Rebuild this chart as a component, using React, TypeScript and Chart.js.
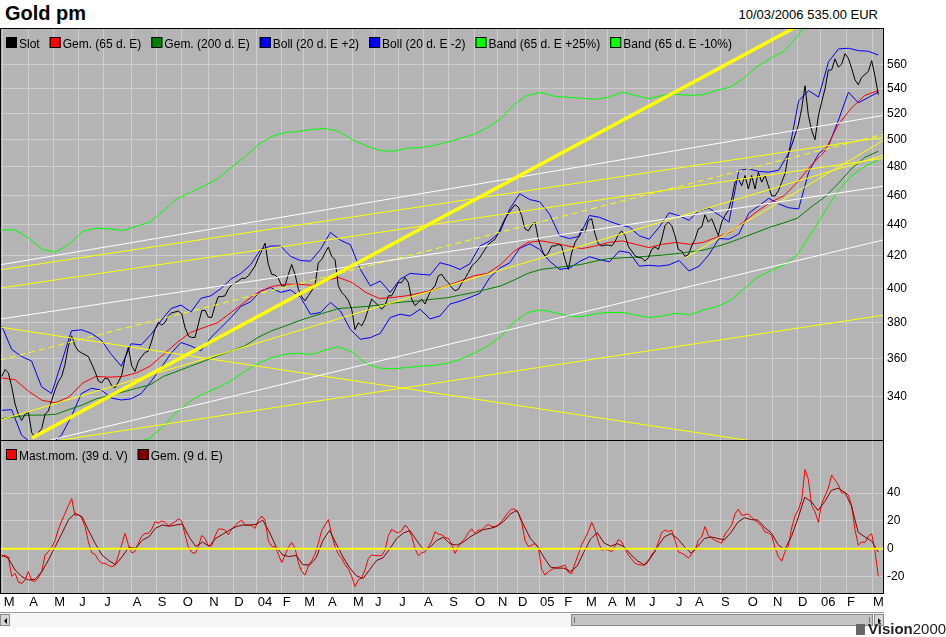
import React, { useEffect, useRef } from 'react';
import { Chart, registerables } from 'chart.js';

Chart.register(...registerables);

const FONT = '"Liberation Sans", Arial, Helvetica, sans-serif';
const PANEL_BG = '#b4b4b4';
const GRID = '#cdcdcd';

Chart.defaults.font.family = FONT;
Chart.defaults.color = '#000';

// x runs in sample steps, sample 0 = first day shown (March 2003)
const X_MIN = -0.51;
const X_MAX = 264.7;
const PRICE_MIN = 318;
const PRICE_MAX = 591.3;
const MOM_MIN = -32.6;
const MOM_MAX = 78.2;

// sample where each month starts, and the axis labels
const monthStarts = [
  0.3, 8.0, 15.5, 23.0, 30.5, 39.0, 46.5, 54.0, 62.0, 69.5,
  76.5, 84.0, 90.5, 97.6, 105.1, 111.7, 119.0, 126.4, 134.0, 141.7, 148.6, 154.6,
  161.2, 168.5, 175.0, 181.6, 186.7, 193.9, 202.0, 207.7, 215.5, 223.5, 231.1, 238.6,
  245.5, 253.3, 261.1,
];
const monthLabels = [
  'M', 'A', 'M', 'J', 'J', 'A', 'S', 'O', 'N', 'D',
  '04', 'F', 'M', 'A', 'M', 'J', 'J', 'A', 'S', 'O', 'N', 'D',
  '05', 'F', 'M', 'A', 'M', 'J', 'J', 'A', 'S', 'O', 'N', 'D',
  '06', 'F', 'M',
];
const priceTicks = [340, 360, 380, 400, 420, 440, 460, 480, 500, 520, 540, 560];
const momentumTicks = [-20, 0, 20, 40];

// gold pm fixing in EUR ("Slot")
const closes = [
  350.4, 354, 352.3, 345, 336.2, 331, 328, 331, 332, 322,
  319.6, 322, 324, 331, 332.7, 338, 343.3, 347.7, 350.4, 356.8,
  366.8, 372.4, 367, 364, 363, 362, 361, 357, 353, 348,
  347, 349.5, 349, 345.5, 344.5, 347.5, 351, 360, 366, 356,
  353, 358.5, 361, 363.2, 364, 369.5, 376, 380, 378.5, 380,
  383.7, 385.5, 386, 386.5, 385, 377, 372.4, 371.5, 371.5, 379,
  386.7, 387, 383, 382.8, 389.6, 395, 395, 395.5, 399.5, 402,
  403, 404.5, 406, 406, 407.5, 410.5, 413.5, 418.7, 423, 428,
  414.5, 408.5, 408, 406, 401.4, 401.4, 408.5, 414.5, 408.5, 399.5,
  395, 392.5, 395.5, 398.5, 402, 415.6, 417.6, 421.8, 425.5, 419.6,
  417.6, 401.4, 397.5, 395.5, 392.6, 387.7, 375.9, 379.8, 378, 381.8,
  387.6, 393.5, 391.6, 389.7, 387.6, 389.7, 395.5, 395.5, 399.4, 403.4,
  403.4, 406.5, 403.4, 393.5, 389.7, 391.6, 393.5, 390.6, 395.5, 399.4,
  401.4, 407.5, 408.5, 405.5, 403.4, 400.4, 398.5, 399.4, 403, 406,
  409.5, 413.5, 415.6, 417.6, 420.7, 424, 427.3, 429, 430.6, 434.5,
  439.5, 444, 447.3, 450.6, 453.5, 451.8, 446, 437.3, 436, 439.5,
  441.8, 430.6, 424, 419.6, 421.8, 426.2, 426.2, 427.3, 426.2, 417.6,
  411.5, 421.8, 428.5, 431.8, 437.3, 435.1, 442.9, 444, 434, 427.5,
  426.2, 426.8, 426.8, 426.2, 429, 433.5, 436, 433, 426, 423,
  420, 419, 418.6, 416.6, 418.7, 424, 425.7, 424, 430.6, 439.5,
  441.8, 439.5, 432.9, 424, 422.9, 419.6, 420.7, 426.2, 430.6, 437.3,
  438.5, 446.7, 441.8, 444, 438.5, 432.9, 441.8, 446.2, 449.5, 457.3,
  469.1, 471.4, 466.6, 473.8, 464.3, 473.8, 464.3, 476.2, 469.1, 473.8,
  466.6, 459.6, 459.5, 463, 469, 475, 489, 495.8, 503.3, 511,
  523.8, 542.2, 518.7, 507, 500, 518, 529.2, 539.6, 555, 555.3,
  564.5, 557.5, 560, 569, 565, 556.5, 547, 543, 549, 551.5,
  554, 563, 550, 535,
];
const LAST = closes.length - 1;

const ema65 = [
  349.6, 348.6, 342.6, 338, 336.8, 339.8, 346.9, 350.4, 350, 350.4,
  352.3, 355.8, 362.2, 368.7, 374.3, 377.1, 379.8, 385.7, 391.6, 397.5,
  401, 402.4, 402.4, 401.8, 404.8, 406.5, 403.4, 397.5, 393.9, 394.5,
  395.5, 397.1, 399, 401.4, 404.4, 407.5, 409, 414.5, 422.9, 428.5,
  429.5, 428, 426.2, 424.5, 426.2, 428.5, 429.5, 427.3, 425.2, 427.3,
  428.5, 427.3, 428.5, 431.8, 435.1, 441.8, 448.9, 455.1, 459.6, 469.1,
  480.9, 490.9, 511, 524.3, 534.4, 538.3,
];
const ema200 = [
  328.8, 329.7, 330.6, 330.6, 331, 333.4, 335.7, 338.8, 340.5, 342.3,
  344.2, 346, 350.4, 353.1, 355.8, 358.5, 361.3, 364.1, 366.8, 371.5,
  375.2, 377.9, 380.8, 383.4, 385.7, 388, 388.6, 389.2, 390, 391.2,
  392, 392.5, 393.5, 394.3, 395.9, 397.5, 399.4, 401.4, 405, 409,
  411.5, 412.5, 413.5, 414.6, 416.6, 418.2, 418.7, 419.1, 419.8, 420.4,
  421.3, 422.5, 423.5, 425.8, 428.5, 431.8, 435.1, 438.5, 441.3, 444.4,
  451.8, 458.5, 467.9, 478.6, 486.9, 491.4,
];
const bollUpper = [
  378, 364.9, 361, 358.6, 345, 341.5, 357.7, 375.2, 375.8, 373.8,
  370, 362.2, 355.8, 368, 367.4, 373.3, 381, 388, 390, 386,
  394, 395.5, 399.8, 405.5, 409, 414.5, 424, 426.2, 426.2, 419.6,
  417, 416.6, 424, 435, 430, 427, 411.5, 401.4, 404.4, 397.5,
  405.5, 409, 408.5, 408, 415.6, 414, 411.5, 415, 426.2, 429.5,
  435.1, 450.6, 461, 457, 455.5, 447, 432.9, 431, 432.5, 446.2,
  445, 442.3, 440, 438.5, 432.8, 430.6, 438.4, 448, 446, 443,
  449.5, 451, 446.6, 441.8, 477.4, 478.6, 476.7, 476.2, 477.6, 490,
  530, 538.2, 533, 562, 573, 573.6, 571.5, 571, 567.8,
];
const bollLower = [
  333, 333.3, 320.8, 317, 316.6, 316.6, 320.8, 330, 341.5, 344.2,
  343.3, 339.2, 338.2, 338.8, 341.5, 347.8, 355, 362.8, 368.7, 366.8,
  364.1, 371.5, 377, 382.7, 389.2, 392, 398.4, 400.4, 397.5, 399,
  394.6, 384.7, 385.7, 391.6, 386.6, 376, 370.5, 371.4, 373.8, 382.8,
  384.7, 383.7, 387.6, 382, 383.7, 390.6, 392.3, 394.5, 397, 406.5,
  412.3, 415.6, 424.7, 427.6, 424, 416.6, 411.5, 412.3, 416.4, 419.4,
  417.6, 416.2, 423, 422, 413.5, 414, 413.5, 414.3, 417, 410.5,
  413.5, 420.7, 431, 430.6, 434, 447.8, 452.7, 457.8, 454, 451.4,
  450.6, 476.2, 489.4, 495.5, 515, 537, 528.4, 532.8, 537,
];
const bandUpper = [
  436.6, 436.6, 431.2, 424, 422.3, 427.3, 435.6, 437.8, 437.3, 436.2,
  439, 441.8, 449.5, 457.5, 462, 466.5, 471.5, 479.5, 487, 496,
  502.3, 505.4, 506.2, 507.7, 508.5, 506.2, 500, 495.5, 492.1, 491.3,
  493.5, 494, 495.5, 498, 501, 504, 509, 516, 527.2, 534.4,
  536.8, 533.6, 532.9, 532.1, 531.3, 532.9, 537, 534.4, 531.8, 534.4,
  535.2, 534.4, 535, 538.4, 541, 548, 558, 565, 571, 584,
  600, 613, 638, 655, 668, 673,
];
const bandLower = [
  314.6, 313.7, 308.4, 304.2, 303.1, 305.8, 312.2, 315.4, 315, 315.4,
  317.1, 319.5, 325.2, 332.4, 337.8, 341.5, 344.5, 348, 353, 357.3,
  360.4, 362.2, 362.8, 362.2, 364.5, 366.4, 363.4, 357.3, 354.8, 354.4,
  355.1, 355.8, 356.2, 357.3, 359.5, 362.7, 366.5, 372, 380.2, 385.7,
  387.2, 385.7, 383.7, 383.3, 384.9, 385.7, 385.7, 384.3, 382.8, 383.7,
  385.3, 384.3, 387.1, 389, 392.5, 399.4, 406.5, 410.5, 414.4, 420.7,
  434, 448.4, 463, 473.5, 480.3, 484.8,
];

// momentum (39 d.) and its 9 d. average
const momentum = [
  -5.8, -4.6, -6, -20, -17.7, -24, -25, -22.5, -16.5, -23,
  -23.5, -21, -16.5, -4.5, -2, 1, 6, 14, 20, 25.4,
  31, 36, 24, 24.5, 22, 16, 5, -3, -4, -8,
  -10.5, -10.5, -12, -13, -11.8, -5, 3, 11, 3, -3,
  -2, 4, 9, 11, 11, 14, 19.4, 18.5, 20, 19,
  16.5, 18, 19.4, 21.5, 20, 10, 1, -2.6, -3.4, 1.4,
  9.5, 7.4, 2, 2, 9, 14, 14.2, 13.4, 10, 14.2,
  16.5, 19, 20.5, 17, 17, 16.5, 14.6, 20.6, 23.5, 20.6,
  5.5, 1.6, 1.4, -4, -10, -4.6, 1, 4.5, 0.5, -10,
  -16.5, -19, -12.5, -8.5, -4, 4, 13, 17, 21, 10,
  1.5, -4, -7, -11.5, -14.5, -20, -27.3, -22.5, -21, -15.3,
  -7, -4.5, -5, -5, -5, -1, 9.5, 14, 12.2, 11.5,
  13, 17, 14.5, 9, 0, -5, -3, -2.2, 1, 5.5,
  12.2, 10.5, 10, 8, 7.5, 3, -3.4, 1.6, 4.7, 7.4,
  11.5, 14.3, 11, 13.4, 13.4, 16, 17.4, 16, 15.8, 17.4,
  19.7, 23, 26.3, 28.5, 28.4, 25.6, 19, 6, 1.5, 2.5,
  3.8, 1, -15, -19, -16.5, -15, -14, -13.3, -12.6, -11.8,
  -17, -18, -10.5, -4, 3, 7.4, 12.5, 19, 13.4, 5,
  -1, -0.5, -1, -2.2, 2, 6.5, 5, -0.5, -4.5, -7.5,
  -10.5, -11.4, -11.8, -11.8, -9.2, -4, -2.2, 4.8, 11.6, 13.4,
  12.4, 13.3, 6, -2.3, -3.3, -4.6, -6.8, -3.7, -1, 6.3,
  8.4, 16, 9.5, 7.6, 6, 5, 4, 10.5, 13.5, 17,
  25, 28.5, 24, 24.5, 25, 22.5, 20.5, 18.6, 16, 12,
  11.4, 9.5, 0.5, -5.6, -9, -2.2, 2, 15, 23.5, 28,
  35, 57, 50, 31, 26.6, 19, 32.5, 38, 43.5, 53,
  49.4, 46, 40, 40.4, 38.6, 31, 13.4, 2.5, 4.8, 4.5,
  9, 10.8, -2, -20,
];
const momentumAvg = [
  -4.6, -7, -15.3, -20, -22.5, -22, -16.5, -8, 1.5, 11,
  21, 25.4, 23, 13, 3.5, -4.6, -8.5, -11.5, -5.8, 1.2,
  0.3, 6, 8.6, 14.8, 17, 16.2, 17, 17.8, 8.5, 1.6,
  4.8, 1.8, 7.5, 10.3, 13.3, 15.8, 17, 17, 17.5, 20.6,
  12, 1.5, -4.6, -5.7, -4.8, -11.5, -11.8, -6.5, 6, 13.2,
  3.5, -6, -13.8, -19.5, -21.5, -15, -8.5, -6.5, 0, 7.2,
  11.2, 13, 6, -0.5, 1, 6, 8.2, 3.5, 2.6, 4.8,
  8.5, 11.2, 13.8, 14.6, 16, 19.6, 25, 27.6, 17, 7.3,
  2, -6, -13.2, -14, -14, -16.5, -12.5, -2.5, 7, 11.6,
  4.2, 1.8, 3.6, 1.5, -4.2, -8.7, -11.6, -6.4, 1.4, 8.4,
  10.9, 7.3, 1.6, -3.2, 1.6, 7.3, 8.5, 7.3, 6.4, 11.8,
  19, 22.3, 20.9, 20.6, 15.2, 11.5, 3, -0.7, 8.6, 22,
  37, 33.7, 27.5, 34, 42, 43.5, 40.5, 30.5, 11.7, 8.4,
  5.5, -2.5,
];

// trend lines drawn on the chart: [from sample, from price, to sample, to price]
const trendThick = [[9.1, 319.4, 242.5, 599]];
const trendYellow = [
  [X_MIN, 411.2, X_MAX, 501.9],
  [X_MIN, 400.1, X_MAX, 486.3],
  [X_MIN, 377.3, X_MAX, 308.6],
  [X_MIN, 328.1, X_MAX, 488.5],
  [17.5, 318.4, X_MAX, 384.2],
  [205, 418.6, X_MAX, 499.7],
];
const trendYellowDashed = [[X_MIN, 359.1, X_MAX, 504.2]];
const trendWhite = [
  [X_MIN, 414.3, X_MAX, 518.6],
  [X_MIN, 381.9, X_MAX, 466.3],
  [14.5, 318.4, X_MAX, 430.2],
];

// spread a series evenly over the whole period
const spread = (values: number[]) =>
  values.map((y, i) => ({ x: (i * LAST) / (values.length - 1), y }));

const series = (label: string, values: number[], color: string, extra: any = {}) => ({
  label,
  data: spread(values),
  borderColor: color,
  backgroundColor: color,
  borderWidth: 1,
  pointRadius: 0,
  tension: 0,
  clip: 0,
  inLegend: true,
  ...extra,
});

const trend = (seg: number[], color: string, width = 1, dash: number[] = []) => ({
  label: 'trend',
  data: [{ x: seg[0], y: seg[1] }, { x: seg[2], y: seg[3] }],
  borderColor: color,
  borderWidth: width,
  borderDash: dash,
  pointRadius: 0,
  clip: 0,
  inLegend: false,
});

// grey panel, black frame and the legend written inside the panel
const drawLegend = (chart: any, items: any[]) => {
  const { ctx, chartArea: a } = chart;
  ctx.save();
  ctx.font = `12px ${FONT}`;
  ctx.textBaseline = 'alphabetic';
  let x = a.left + 6;
  const top = a.top + 9;
  items.forEach((ds: any) => {
    ctx.fillStyle = ds.borderColor;
    ctx.fillRect(x, top, 11, 11);
    ctx.strokeStyle = '#000';
    ctx.lineWidth = 1;
    ctx.strokeRect(x + 0.5, top + 0.5, 10, 10);
    ctx.fillStyle = '#000';
    ctx.fillText(ds.label, x + 13, top + 10.5);
    x += 13 + ctx.measureText(ds.label).width + 10;
  });
  ctx.restore();
};

const panelPlugin = {
  id: 'panel',
  beforeDraw(chart: any) {
    const { ctx, chartArea: a } = chart;
    ctx.save();
    ctx.fillStyle = PANEL_BG;
    ctx.fillRect(a.left, a.top, a.right - a.left, a.bottom - a.top);
    ctx.restore();
  },
  afterDraw(chart: any, _args: any, opts: any) {
    const { ctx, chartArea: a } = chart;
    ctx.save();
    ctx.strokeStyle = '#000';
    ctx.lineWidth = 1;
    ctx.strokeRect(a.left + 0.5, a.top + 0.5, a.right - a.left - 1, a.bottom - a.top - 1);
    ctx.restore();
    const items = chart.data.datasets.filter((d: any) => d.inLegend);
    drawLegend(chart, opts && opts.reverse ? items.slice().reverse() : items);
  },
};

const xScale = (showLabels: boolean) => ({
  type: 'linear',
  min: X_MIN,
  max: X_MAX,
  bounds: 'data',
  grid: { color: GRID, drawTicks: false },
  border: { display: false },
  ticks: {
    display: showLabels,
    autoSkip: false,
    maxRotation: 0,
    minRotation: 0,
    align: 'start',
    labelOffset: 1,
    padding: 1,
    font: { size: 13 },
    color: '#000',
    callback: (_v: any, i: number) => monthLabels[i],
  },
  afterBuildTicks: (s: any) => {
    s.ticks = monthStarts.map((value) => ({ value }));
  },
  afterFit: (s: any) => {
    s.height = showLabels ? 18 : 0;
    s.paddingLeft = 0;
    s.paddingRight = 0;
  },
});

const yScale = (type: string, min: number, max: number, ticks: number[]) => ({
  type,
  position: 'right',
  min,
  max,
  bounds: 'data',
  grid: { color: GRID, drawTicks: false },
  border: { display: false },
  ticks: { padding: 3, font: { size: 12 }, color: '#000', callback: (v: any) => String(v) },
  afterBuildTicks: (s: any) => {
    s.ticks = ticks.map((value) => ({ value }));
  },
  afterFit: (s: any) => {
    s.width = 62;
    s.paddingTop = 0;
    s.paddingBottom = 0;
  },
});

const baseOptions = (scales: any, panelOpts: any = {}) => ({
  animation: false,
  responsive: true,
  maintainAspectRatio: false,
  layout: { padding: 0 },
  events: [],
  plugins: { legend: { display: false }, tooltip: { enabled: false }, panel: panelOpts },
  scales,
});

const PriceChart: React.FC = () => {
  const canvasRef = useRef<HTMLCanvasElement>(null);
  const chartRef = useRef<Chart | null>(null);

  useEffect(() => {
    if (!canvasRef.current) return;
    if (chartRef.current) chartRef.current.destroy();
    const datasets: any[] = [
      ...trendThick.map((s) => trend(s, '#ffff00', 3.5)),
      ...trendWhite.map((s) => trend(s, '#ffffff')),
      ...trendYellow.map((s) => trend(s, '#ffff00')),
      ...trendYellowDashed.map((s) => trend(s, '#ffff00', 1, [6, 4])),
      series('Slot', closes, '#000000'),
      series('Gem. (65 d. E)', ema65, '#ff0000'),
      series('Gem. (200 d. E)', ema200, '#008000'),
      series('Boll (20 d. E +2)', bollUpper, '#0000ff'),
      series('Boll (20 d. E -2)', bollLower, '#0000ff'),
      series('Band (65 d. E +25%)', bandUpper, '#00ff00'),
      series('Band (65 d. E -10%)', bandLower, '#00ff00'),
    ];
    chartRef.current = new Chart(canvasRef.current, {
      type: 'line',
      data: { datasets },
      options: baseOptions({
        x: xScale(false),
        y: yScale('logarithmic', PRICE_MIN, PRICE_MAX, priceTicks),
      }) as any,
      plugins: [panelPlugin],
    });
    return () => {
      if (chartRef.current) {
        chartRef.current.destroy();
        chartRef.current = null;
      }
    };
  }, []);

  return (
    <div style={{ position: 'absolute', left: 0, top: 28, width: 946, height: 413 }}>
      <canvas ref={canvasRef}></canvas>
    </div>
  );
};

const MomentumChart: React.FC = () => {
  const canvasRef = useRef<HTMLCanvasElement>(null);
  const chartRef = useRef<Chart | null>(null);

  useEffect(() => {
    if (!canvasRef.current) return;
    if (chartRef.current) chartRef.current.destroy();
    const datasets: any[] = [
      {
        label: 'zero',
        data: [{ x: X_MIN, y: 0 }, { x: X_MAX, y: 0 }],
        borderColor: '#ffff00',
        borderWidth: 2,
        pointRadius: 0,
        clip: 0,
        inLegend: false,
      },
      series('Gem. (9 d. E)', momentumAvg, '#800000'),
      series('Mast.mom. (39 d. V)', momentum, '#ff0000'),
    ];
    chartRef.current = new Chart(canvasRef.current, {
      type: 'line',
      data: { datasets },
      options: baseOptions(
        {
          x: xScale(true),
          y: yScale('linear', MOM_MIN, MOM_MAX, momentumTicks),
        },
        { reverse: true },
      ) as any,
      plugins: [panelPlugin],
    });
    return () => {
      if (chartRef.current) {
        chartRef.current.destroy();
        chartRef.current = null;
      }
    };
  }, []);

  return (
    <div style={{ position: 'absolute', left: 0, top: 440, width: 946, height: 172 }}>
      <canvas ref={canvasRef}></canvas>
    </div>
  );
};

const arrow = (dir: 'left' | 'right') => ({
  width: 0,
  height: 0,
  borderTop: '3px solid transparent',
  borderBottom: '3px solid transparent',
  [dir === 'left' ? 'borderRight' : 'borderLeft']: '3px solid #000',
  margin: '3px auto 0',
});

const ScrollBar: React.FC = () => (
  <div
    style={{
      position: 'absolute', left: 0, top: 612, width: 884, height: 15,
      background: '#f6f6f6', borderTop: '1px solid #9c9c9c', boxSizing: 'border-box',
    }}
  >
    <div style={{ position: 'absolute', left: 0, top: 1, width: 10, height: 12, background: '#d6d6d6', border: '1px solid #8a8a8a', boxSizing: 'border-box' }}>
      <div style={arrow('left') as any} />
    </div>
    <div style={{ position: 'absolute', left: 571, top: 1, width: 302, height: 12, background: '#c4c4c4', border: '1px solid #8a8a8a', boxSizing: 'border-box' }}>
      <div style={{ position: 'absolute', left: 2, top: 2, width: 1, height: 6, background: '#777' }} />
      <div style={{ position: 'absolute', right: 2, top: 2, width: 1, height: 6, background: '#777' }} />
    </div>
    <div style={{ position: 'absolute', left: 874, top: 1, width: 10, height: 12, background: '#d6d6d6', border: '1px solid #8a8a8a', boxSizing: 'border-box' }}>
      <div style={arrow('right') as any} />
    </div>
  </div>
);

export default function App() {
  useEffect(() => {
    document.body.style.margin = '0';
  }, []);

  return (
    <div style={{ position: 'relative', width: 946, height: 637, background: '#fff', fontFamily: FONT, overflow: 'hidden' }}>
      <div style={{ position: 'absolute', left: 5, top: 2, fontSize: 20, fontWeight: 'bold', lineHeight: 'normal' }}>Gold pm</div>
      <div style={{ position: 'absolute', right: 68, top: 7, fontSize: 13, lineHeight: 'normal' }}>10/03/2006 535.00 EUR</div>
      <PriceChart />
      <MomentumChart />
      <ScrollBar />
      <div style={{ position: 'absolute', left: 856, top: 621, fontSize: 15, lineHeight: '16px', color: '#222', whiteSpace: 'nowrap' }}>
        <span style={{ display: 'inline-block', width: 9, height: 11, background: '#666', marginRight: 3, verticalAlign: '-1px' }} />
        <b>Vision</b>2000
      </div>
    </div>
  );
}
